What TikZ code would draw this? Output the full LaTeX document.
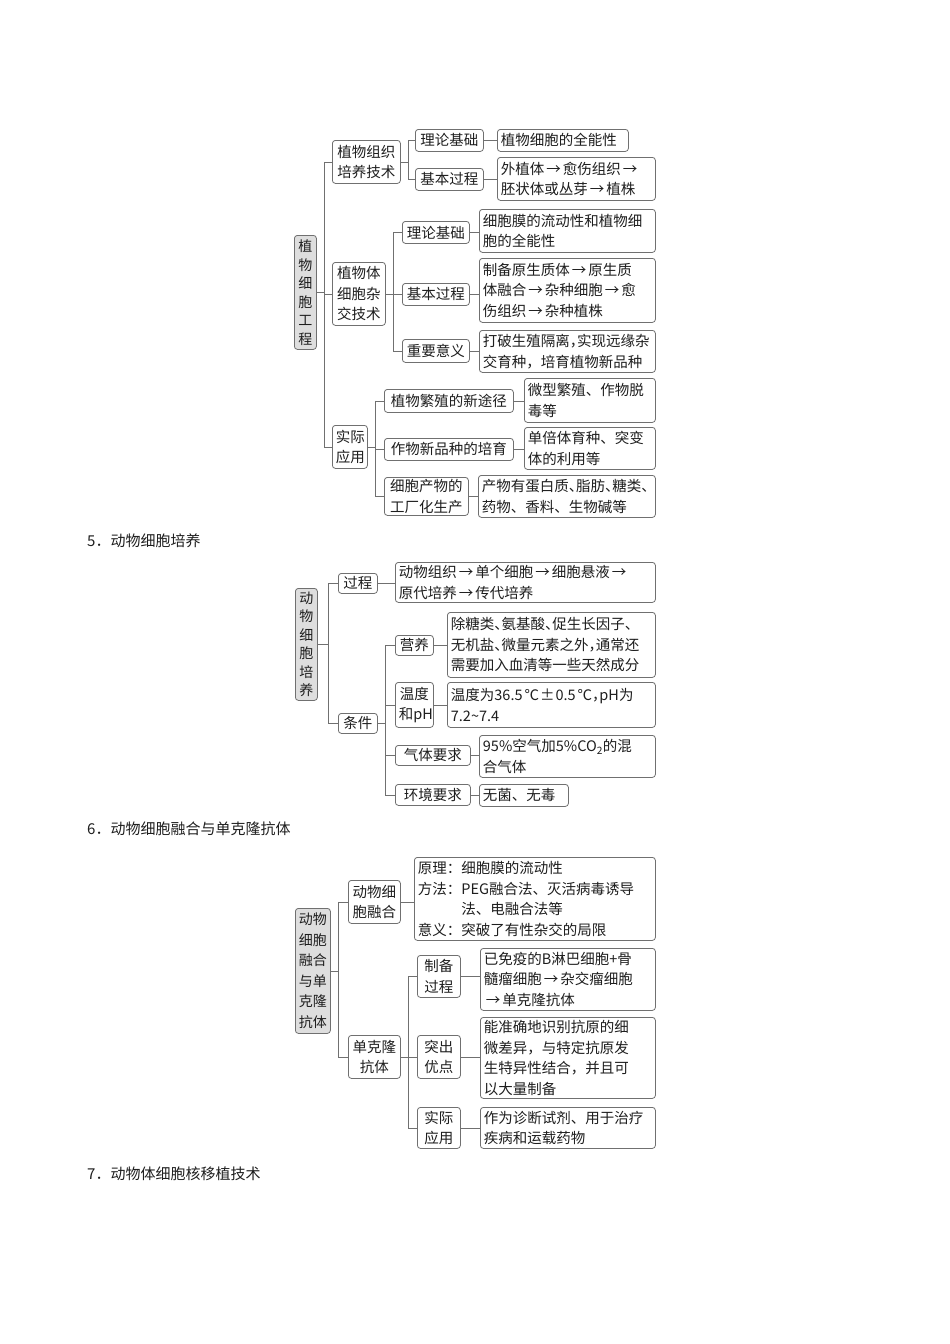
\documentclass[tikz,border=0pt]{standalone}
\usepackage{fontspec}
\newfontfamily\cjk{Noto Sans CJK SC}
\newfontfamily\cjkh[RawFeature={+halt}]{Noto Sans CJK SC}
\definecolor{linec}{RGB}{112,112,112}
\definecolor{rootfill}{RGB}{222,222,222}
\definecolor{txt}{RGB}{30,30,30}
\newcommand\myar{\hspace{2pt}→\hspace{2pt}}
\newcommand\placebox[7]{%
  \pgfmathsetmacro\pbw{#5-#3}\pgfmathsetmacro\pbh{#6-#4}\pgfmathsetmacro\ptw{#5-#3-7}%
  \node[#1, minimum width=\pbw pt, minimum height=\pbh pt, text width=\ptw pt] (#2) at (#3,#4) {#7};}
\tikzset{
  lk/.style={draw=linec, line width=0.8pt},
  bx/.style={draw=linec, line width=0.8pt, rounded corners=3pt, inner xsep=3.5pt, inner ysep=0pt,
    font=\cjk\fontsize{14.5}{20.5}\selectfont, text=txt, anchor=north west},
  cat/.style={bx, align=center},
  leaf/.style={bx, align=left},
  rootbox/.style={bx, fill=rootfill, align=center, font=\cjk\fontsize{14}{18.5}\selectfont},
  rootboxb/.style={bx, fill=rootfill, align=center, font=\cjk\fontsize{14}{20.5}\selectfont},
  hd/.style={anchor=west, inner sep=0pt, font=\cjk\fontsize{15}{18}\selectfont, text=txt}
}
\begin{document}
\begin{tikzpicture}[x=1pt,y=-1pt]
\useasboundingbox[fill=white] (0,0) rectangle (950,1344);

% ---------- Section: plant cell engineering ----------
\placebox{rootbox}{r1}{294}{235}{316}{349}{植\\物\\细\\胞\\工\\程}
\placebox{cat}{A}{332}{140}{400}{183}{植物组织\\培养技术}
\placebox{cat}{A1}{415}{129}{483}{151}{理论基础}
\placebox{leaf}{A1l}{497}{129}{628}{151}{植物细胞的全能性}
\placebox{cat}{A2}{415}{168}{483}{190}{基本过程}
\placebox{leaf}{A2l}{497}{157}{655}{200}{外植体\myar 愈伤组织\myar\\胚状体或丛芽\myar 植株}
\placebox{cat}{B}{332}{262}{385}{325}{植物体\\细胞杂\\交技术}
\placebox{cat}{B1}{402}{221}{469}{243}{理论基础}
\placebox{leaf}{B1l}{479}{209}{655}{252}{细胞膜的流动性和植物细\\胞的全能性}
\placebox{cat}{B2}{402}{283}{469}{305}{基本过程}
\placebox{leaf}{B2l}{479}{258}{655}{322}{制备原生质体\myar 原生质\\体融合\myar 杂种细胞\myar 愈\\伤组织\myar 杂种植株}
\placebox{cat}{B3}{402}{339}{469}{362}{重要意义}
\placebox{leaf}{B3l}{479}{330}{655}{372}{{\cjkh 打破生殖隔离，}实现远缘杂\\交育种，培育植物新品种}
\placebox{cat}{C}{332}{425}{367}{468}{实际\\应用}
\placebox{cat}{C1}{384}{389}{513}{412}{植物繁殖的新途径}
\placebox{leaf}{C1l}{524}{378}{655}{422}{微型繁殖、作物脱\\毒等}
\placebox{cat}{C2}{384}{438}{513}{460}{作物新品种的培育}
\placebox{leaf}{C2l}{524}{427}{655}{469}{单倍体育种、突变\\体的利用等}
\placebox{cat}{C3}{384}{477}{468}{515}{细胞产物的\\工厂化生产}
\placebox{leaf}{C3l}{478}{475}{655}{517}{{\cjkh 产物有蛋白质、脂肪、糖类、}\\药物、香料、生物碱等}

\coordinate (t1) at (324,0);
\coordinate (tA) at (408,0);
\coordinate (tB) at (393,0);
\coordinate (tC) at (375,0);
\draw[lk] (r1.east) -- (r1.east -| t1);
\draw[lk] (A.west -| t1) -- (C.west -| t1);
\foreach \n in {A,B,C} \draw[lk] (\n.west) -- (\n.west -| t1);
\draw[lk] (A.east) -- (A.east -| tA);
\draw[lk] (A1.west -| tA) -- (A2.west -| tA);
\foreach \n in {A1,A2} \draw[lk] (\n.west) -- (\n.west -| tA);
\draw[lk] (B.east) -- (B.east -| tB);
\draw[lk] (B1.west -| tB) -- (B3.west -| tB);
\foreach \n in {B1,B2,B3} \draw[lk] (\n.west) -- (\n.west -| tB);
\draw[lk] (C.east) -- (C.east -| tC);
\draw[lk] (C1.west -| tC) -- (C3.west -| tC);
\foreach \n in {C1,C2,C3} \draw[lk] (\n.west) -- (\n.west -| tC);
\foreach \n in {A1,A2,B1,B2,B3,C1,C2,C3} \draw[lk] (\n.east) -- (\n.east -| \n l.west);

% ---------- Section 5 ----------
\node[hd] (h5) at (87,541) {5．动物细胞培养};
\placebox{rootbox}{r5}{295}{588}{317}{700}{动\\物\\细\\胞\\培\\养}
\placebox{cat}{P}{338}{573}{377}{593}{过程}
\placebox{leaf}{Pl}{395}{562}{655}{602}{动物组织\myar 单个细胞\myar 细胞悬液\myar\\原代培养\myar 传代培养}
\placebox{cat}{Q}{338}{713}{377}{733}{条件}
\placebox{cat}{Q1}{395}{635}{433}{655}{营养}
\placebox{leaf}{Q1l}{447}{612}{655}{677}{{\cjkh 除糖类、氨基酸、促生长因子、}\\{\cjkh 无机盐、微量元素之外，}通常还\\需要加入血清等一些天然成分}
\placebox{cat}{Q2}{395}{682}{433}{727}{温度\\和pH}
\placebox{leaf}{Q2l}{447}{682}{655}{727}{\mbox{温度为36.5\hspace{2pt}℃\hspace{1pt}±\hspace{1pt}0.5\hspace{2pt}℃{\cjkh ，}pH为}\\7.2\textasciitilde7.4}
\placebox{cat}{Q3}{395}{745}{470}{765}{气体要求}
\placebox{leaf}{Q3l}{479}{735}{655}{777}{95\%空气加5\%CO\textsubscript{2}的混\\合气体}
\placebox{cat}{Q4}{395}{784}{470}{805}{环境要求}
\placebox{leaf}{Q4l}{479}{784}{568}{806}{无菌、无毒}

\coordinate (t5) at (328,0);
\coordinate (tQ) at (385,0);
\draw[lk] (r5.east) -- (r5.east -| t5);
\draw[lk] (P.west -| t5) -- (Q.west -| t5);
\foreach \n in {P,Q} \draw[lk] (\n.west) -- (\n.west -| t5);
\draw[lk] (Q.east) -- (Q.east -| tQ);
\draw[lk] (Q1.west -| tQ) -- (Q4.west -| tQ);
\foreach \n in {Q1,Q2,Q3,Q4} \draw[lk] (\n.west) -- (\n.west -| tQ);
\foreach \n in {P,Q1,Q2,Q3,Q4} \draw[lk] (\n.east) -- (\n.east -| \n l.west);

% ---------- Section 6 ----------
\node[hd] (h6) at (87,829) {6．动物细胞融合与单克隆抗体};
\placebox{rootboxb}{r6}{295}{908}{330}{1033}{动物\\细胞\\融合\\与单\\克隆\\抗体}
\placebox{cat}{D}{348}{880}{400}{923}{动物细\\胞融合}
\placebox{leaf}{Dl}{414}{857}{655}{940}{原理：细胞膜的流动性\\方法：PEG融合法、灭活病毒诱导\\\hspace*{3em}法、电融合法等\\意义：突破了有性杂交的局限}
\placebox{cat}{E}{348}{1035}{400}{1078}{单克隆\\抗体}
\placebox{cat}{E1}{417}{955}{460}{997}{制备\\过程}
\placebox{leaf}{E1l}{480}{948}{655}{1010}{已免疫的B淋巴细胞+骨\\髓瘤细胞\myar 杂交瘤细胞\\\myar 单克隆抗体}
\placebox{cat}{E2}{417}{1035}{460}{1078}{突出\\优点}
\placebox{leaf}{E2l}{480}{1017}{655}{1098}{能准确地识别抗原的细\\微差异，与特定抗原发\\生特异性结合，并且可\\以大量制备}
\placebox{cat}{E3}{417}{1107}{460}{1148}{实际\\应用}
\placebox{leaf}{E3l}{480}{1107}{655}{1148}{作为诊断试剂、用于治疗\\疾病和运载药物}

\coordinate (t6) at (338,0);
\coordinate (tE) at (408,0);
\draw[lk] (r6.east) -- (r6.east -| t6);
\draw[lk] (D.west -| t6) -- (E.west -| t6);
\foreach \n in {D,E} \draw[lk] (\n.west) -- (\n.west -| t6);
\draw[lk] (E.east) -- (E.east -| tE);
\draw[lk] (E1.west -| tE) -- (E3.west -| tE);
\foreach \n in {E1,E2,E3} \draw[lk] (\n.west) -- (\n.west -| tE);
\foreach \n in {D,E1,E2,E3} \draw[lk] (\n.east) -- (\n.east -| \n l.west);

% ---------- Section 7 header ----------
\node[hd] (h7) at (87,1174) {7．动物体细胞核移植技术};
\end{tikzpicture}
\end{document}
